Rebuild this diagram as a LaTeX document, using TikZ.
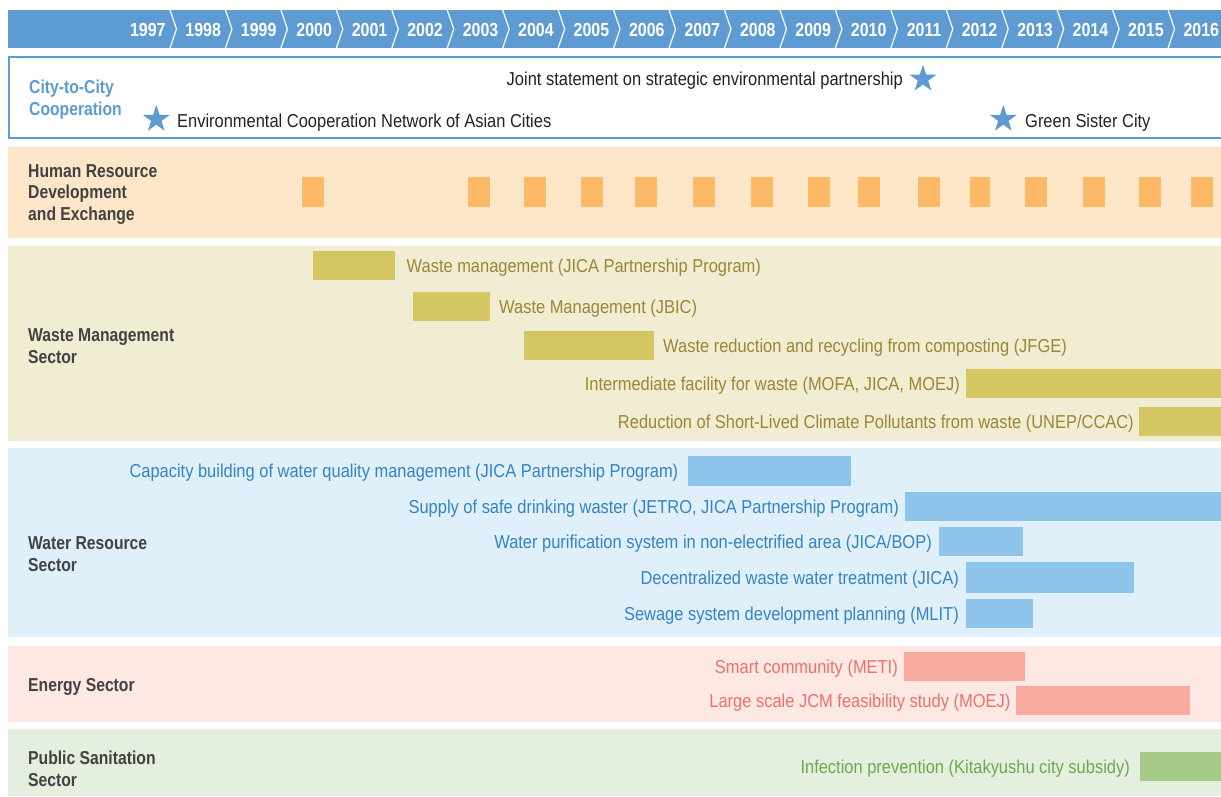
\documentclass[tikz,border=0pt]{standalone}
\usepackage{fontspec}
\setmainfont{Liberation Sans}[FakeStretch=0.88]
\newfontfamily\lblfont{Liberation Sans}[FakeStretch=0.84]
\usetikzlibrary{shapes.geometric}
\definecolor{hdr}{HTML}{5F9BD3}
\definecolor{hrband}{HTML}{FEE6C8}
\definecolor{hrbar}{HTML}{FDB966}
\definecolor{wband}{HTML}{F1EDD3}
\definecolor{wbar}{HTML}{D4C663}
\definecolor{wtx}{HTML}{9C8535}
\definecolor{vband}{HTML}{DFF0FB}
\definecolor{vbar}{HTML}{8EC4EA}
\definecolor{vtx}{HTML}{3484C4}
\definecolor{eband}{HTML}{FDE8E3}
\definecolor{ebar}{HTML}{F9AA9E}
\definecolor{etx}{HTML}{F0706A}
\definecolor{gband}{HTML}{E4EFDF}
\definecolor{gbar}{HTML}{A6CB88}
\definecolor{gtx}{HTML}{6DA84F}
\definecolor{lbl}{HTML}{424242}
\definecolor{ctx}{HTML}{222222}
\begin{document}
\begin{tikzpicture}[x=1pt,y=-1pt,
  year/.style={text=white, inner sep=0pt, anchor=base, font=\lblfont\bfseries\fontsize{19pt}{21pt}\selectfont},
  lab/.style={text=lbl, inner sep=0pt, anchor=base west, align=left, font=\lblfont\bfseries\fontsize{18.7pt}{21.5pt}\selectfont},
  itm/.style={inner sep=0pt, text height=13.4pt, text depth=0pt, font=\fontsize{18.7pt}{21.5pt}\selectfont},
  barbox/.style={inner sep=0pt, outer sep=0pt, draw=none, anchor=north west},
  band/.style={barbox},
  starsh/.style={star, star points=5, star point ratio=2.6, fill=hdr, draw=none, inner sep=0pt, minimum size=28.4pt},
  sq/.style={barbox, fill=hrbar, minimum width=22pt, minimum height=30pt}
]
\useasboundingbox (0,0) rectangle (1221,796);
\fill[white] (0,0) rectangle (1221,796);

% header bar
\node[band, fill=hdr, minimum width=1213pt, minimum height=38pt] (header) at (8,10) {};
\foreach \i in {0,...,18} {
  \draw[white, line width=1.2pt] (170+55.45*\i,10) -- (176.5+55.45*\i,29) -- (170+55.45*\i,48);
}
\foreach \yr [count=\k from 0] in {1997,...,2016} {
  \node[year] (y\yr) at (147.8+55.45*\k,36) {\yr};
}

% city-to-city box
\draw[hdr, line width=1.7pt] (1221,56.8) -- (8.9,56.8) -- (8.9,138.2) -- (1221,138.2);
\node[lab, text=hdr] (citylab) at (29,115) {City-to-City\\Cooperation};
\node[starsh] (s1) at (923,79) {};
\node[starsh] (s2) at (156.3,119.2) {};
\node[starsh] (s3) at (1003.3,119.2) {};
\node[itm, text=ctx, anchor=east] (c1) at (903,78.3) {Joint statement on strategic environmental partnership};
\node[itm, text=ctx, anchor=west] (c2) at (177,120.3) {Environmental Cooperation Network of Asian Cities};
\node[itm, text=ctx, anchor=west] (c3) at (1025,120.3) {Green Sister City};

% human resource band
\node[band, fill=hrband, minimum width=1213pt, minimum height=91pt] (hrb) at (8,147) {};
\node[lab] (hrlab) at (28,220) {Human Resource\\Development\\and Exchange};
\foreach \x/\n in {302/2000,468/2003,524/2004,581/2005,635/2006,693/2007,751/2008,808/2009,858/2010,918/2011,1025/2013,1083/2014,1139/2015,1191/2016} {
  \node[sq] (hr\n) at (\x,177) {};
}
\node[sq, minimum width=20pt] (hr2012) at (970,177) {};

% waste band
\node[band, fill=wband, minimum width=1213pt, minimum height=195pt] (wb) at (8,246) {};
\node[lab] (wlab) at (28,363) {Waste Management\\Sector};
\node[barbox, fill=wbar, minimum width=82pt, minimum height=29pt] (wb1) at (313,251) {};
\node[barbox, fill=wbar, minimum width=77pt, minimum height=29pt] (wb2) at (413,292) {};
\node[barbox, fill=wbar, minimum width=130pt, minimum height=29pt] (wb3) at (524,331) {};
\node[barbox, fill=wbar, minimum width=255pt, minimum height=29pt] (wb4) at (966,369) {};
\node[barbox, fill=wbar, minimum width=82pt, minimum height=29pt] (wb5) at (1139,407) {};
\node[itm, text=wtx, anchor=west] (wt1) at ([xshift=11.5pt]wb1.east) {Waste management (JICA Partnership Program)};
\node[itm, text=wtx, anchor=west] (wt2) at ([xshift=9pt]wb2.east) {Waste Management (JBIC)};
\node[itm, text=wtx, anchor=west] (wt3) at ([xshift=9pt]wb3.east) {Waste reduction and recycling from composting (JFGE)};
\node[itm, text=wtx, anchor=east] (wt4) at ([xshift=-6pt]wb4.west) {Intermediate facility for waste (MOFA, JICA, MOEJ)};
\node[itm, text=wtx, anchor=east] (wt5) at ([xshift=-5pt]wb5.west) {Reduction of Short-Lived Climate Pollutants from waste (UNEP/CCAC)};

% water band
\node[band, fill=vband, minimum width=1213pt, minimum height=189pt] (vb) at (8,448) {};
\node[lab] (vlab) at (28,571) {Water Resource\\Sector};
\node[barbox, fill=vbar, minimum width=163pt, minimum height=30pt] (vb1) at (688,456) {};
\node[barbox, fill=vbar, minimum width=316pt, minimum height=29pt] (vb2) at (905,492) {};
\node[barbox, fill=vbar, minimum width=84pt, minimum height=29pt] (vb3) at (939,527) {};
\node[barbox, fill=vbar, minimum width=168pt, minimum height=31pt] (vb4) at (966,562) {};
\node[barbox, fill=vbar, minimum width=67pt, minimum height=29pt] (vb5) at (966,599) {};
\node[itm, text=vtx, anchor=east] (vt1) at ([xshift=-9.5pt]vb1.west) {Capacity building of water quality management (JICA Partnership Program)};
\node[itm, text=vtx, anchor=east] (vt2) at ([xshift=-6pt]vb2.west) {Supply of safe drinking waster (JETRO, JICA Partnership Program)};
\node[itm, text=vtx, anchor=east] (vt3) at ([xshift=-7pt]vb3.west) {Water purification system in non-electrified area (JICA/BOP)};
\node[itm, text=vtx, anchor=east] (vt4) at ([xshift=-7pt]vb4.west) {Decentralized waste water treatment (JICA)};
\node[itm, text=vtx, anchor=east] (vt5) at ([xshift=-7pt]vb5.west) {Sewage system development planning (MLIT)};

% energy band
\node[band, fill=eband, minimum width=1213pt, minimum height=76pt] (eb) at (8,646) {};
\node[lab] (elab) at (28,691.6) {Energy Sector};
\node[barbox, fill=ebar, minimum width=121pt, minimum height=29pt] (eb1) at (904,652) {};
\node[barbox, fill=ebar, minimum width=174pt, minimum height=29pt] (eb2) at (1016,686) {};
\node[itm, text=etx, anchor=east] (et1) at ([xshift=-6pt]eb1.west) {Smart community (METI)};
\node[itm, text=etx, anchor=east] (et2) at ([xshift=-5.5pt]eb2.west) {Large scale JCM feasibility study (MOEJ)};

% public sanitation band
\node[band, fill=gband, minimum width=1213pt, minimum height=67pt] (gb) at (8,729) {};
\node[lab] (glab) at (28,786) {Public Sanitation\\Sector};
\node[barbox, fill=gbar, minimum width=81pt, minimum height=29pt] (gb1) at (1140,752) {};
\node[itm, text=gtx, anchor=east] (gt1) at ([xshift=-10pt]gb1.west) {Infection prevention (Kitakyushu city subsidy)};
\end{tikzpicture}
\end{document}
